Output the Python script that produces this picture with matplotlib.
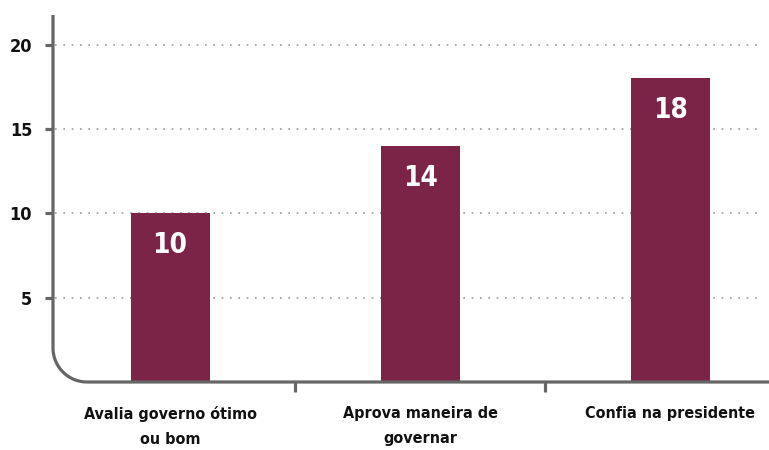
import numpy as np
import matplotlib
matplotlib.use("Agg")
import matplotlib.pyplot as plt

categorias = ["Avalia governo ótimo\nou bom", "Aprova maneira de\ngovernar", "Confia na presidente"]
valores = [10, 14, 18]
yticks = [5, 10, 15, 20]

cor_barra = "#7b2447"
cor_eixo = "#666666"

plt.rcParams['font.family'] = ['DejaVu Sans']
fonte = dict(fontstretch='condensed', fontweight='bold')

fig = plt.figure(figsize=(7.69, 4.5), dpi=100)
W, H = 769, 450
ax = fig.add_axes([53 / W, 1 - 382 / H, (769 - 53) / W, (382 - 15) / H])

x = np.arange(len(categorias))
ax.bar(x, valores, width=0.316, color=cor_barra, zorder=3)
for xi, v in zip(x, valores):
    ax.annotate(str(v), (xi, v), xytext=(0, -23), textcoords='offset points',
                ha='center', va='center', color='white', fontsize=20, **fonte)

ax.set_xlim(-0.468, 2.394)
ax.set_ylim(0, 21.75)

for s in ax.spines.values():
    s.set_visible(False)

# eixo em L com canto arredondado
r = 34
rx = r / (769 - 53)
ry = r / (382 - 15)
t = np.linspace(np.pi, 1.5 * np.pi, 30)
arc_x = rx + rx * np.cos(t)
arc_y = ry + ry * np.sin(t)
lx = np.concatenate([[0], arc_x, [1]])
ly = np.concatenate([[1], arc_y, [0]])
ax.plot(lx, ly, transform=ax.transAxes, color=cor_eixo, lw=2.3,
        clip_on=False, zorder=4, solid_capstyle='butt')

ax.set_yticks(yticks)
ax.set_yticklabels([str(v) for v in yticks], fontsize=13, color='#111111', **fonte)
ax.tick_params(axis='y', length=6, width=2.3, color=cor_eixo, pad=9)

ax.set_xticks(x)
ax.set_xticklabels(categorias, fontsize=11.5, color='#111111', linespacing=1.9, **fonte)
ax.tick_params(axis='x', which='major', length=0, pad=17)
ax.set_xticks([0.5, 1.5], minor=True)
ax.tick_params(axis='x', which='minor', length=7, width=2.3, color=cor_eixo, direction='out')

for v in yticks:
    ax.plot([0.003, 0.987], [v, v], transform=ax.get_yaxis_transform(),
            color='#999999', lw=1.2, linestyle=(0, (1, 4)), zorder=1)

fig.savefig("out.png", dpi=100)
